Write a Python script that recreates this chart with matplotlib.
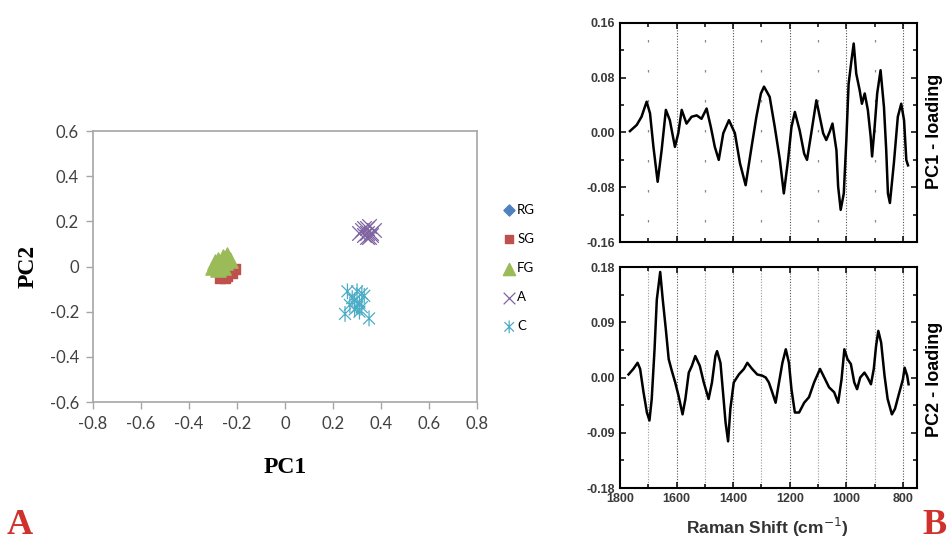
import matplotlib
matplotlib.use("Agg")
import matplotlib.pyplot as plt
from matplotlib.path import Path
from matplotlib.ticker import MultipleLocator, FormatStrFormatter, FixedLocator

plt.rcParams['font.family'] = ['Lato', 'DejaVu Sans']

# PCA scores (panel A)
rg_x = [-0.27, -0.25, -0.23]
rg_y = [-0.02, -0.01, -0.03]
sg_x = [-0.27, -0.25, -0.24, -0.22, -0.21, -0.26]
sg_y = [-0.05, -0.05, -0.04, -0.03, -0.01, -0.04]
fg_x = [-0.30, -0.29, -0.28, -0.27, -0.26, -0.25, -0.24, -0.23, -0.28, -0.26]
fg_y = [0.00, 0.02, 0.03, 0.01, 0.04, 0.02, 0.05, 0.03, -0.01, 0.00]
a_x = [0.32, 0.34, 0.36, 0.33, 0.35, 0.37, 0.34, 0.31, 0.35, 0.33, 0.36, 0.34]
a_y = [0.16, 0.17, 0.15, 0.14, 0.13, 0.16, 0.15, 0.15, 0.18, 0.17, 0.14, 0.13]
c_x = [0.25, 0.35, 0.26, 0.30, 0.32, 0.29, 0.30, 0.31, 0.28, 0.31, 0.33, 0.29, 0.27, 0.32]
c_y = [-0.21, -0.23, -0.11, -0.11, -0.12, -0.15, -0.18, -0.20, -0.14, -0.16, -0.13, -0.19, -0.17, -0.18]

# PC loadings (panel B)
pc1_wn = [1765, 1741, 1724, 1706, 1694, 1682, 1667, 1653, 1638, 1624, 1606, 1594, 1582, 1565,
          1547, 1529, 1512, 1494, 1479, 1465, 1451, 1435, 1415, 1394, 1376, 1356, 1335, 1318,
          1302, 1291, 1271, 1253, 1235, 1221, 1206, 1194, 1182, 1165, 1149, 1139, 1124, 1106,
          1094, 1082, 1071, 1059, 1049, 1035, 1029, 1020, 1009, 1000, 992, 982, 974, 965, 953,
          945, 935, 924, 914, 909, 900, 891, 879, 867, 859, 853, 846, 832, 818, 806, 796, 788, 782]
pc1_val = [0.002, 0.011, 0.023, 0.045, 0.028, -0.021, -0.072, -0.026, 0.033, 0.018, -0.021,
           -0.001, 0.033, 0.013, 0.023, 0.025, 0.020, 0.035, 0.008, -0.021, -0.040, -0.001,
           0.018, -0.001, -0.045, -0.077, -0.021, 0.023, 0.057, 0.067, 0.052, 0.008, -0.040,
           -0.089, -0.040, 0.008, 0.030, 0.003, -0.031, -0.040, -0.001, 0.047, 0.023, -0.001,
           -0.011, 0.001, 0.013, -0.026, -0.079, -0.113, -0.089, -0.011, 0.071, 0.105, 0.130,
           0.086, 0.062, 0.042, 0.057, 0.033, -0.006, -0.035, 0.008, 0.057, 0.091, 0.037,
           -0.026, -0.089, -0.103, -0.045, 0.023, 0.042, 0.018, -0.040, -0.048]
pc2_wn = [1770, 1753, 1738, 1729, 1717, 1705, 1696, 1688, 1678, 1670, 1658, 1649, 1638, 1628,
          1617, 1605, 1593, 1579, 1569, 1557, 1546, 1534, 1518, 1504, 1487, 1475, 1463, 1457,
          1445, 1436, 1427, 1418, 1410, 1398, 1380, 1362, 1350, 1333, 1315, 1297, 1285, 1274,
          1262, 1250, 1238, 1226, 1214, 1203, 1194, 1182, 1167, 1149, 1132, 1114, 1093, 1078,
          1061, 1043, 1029, 1017, 1007, 996, 984, 972, 962, 951, 936, 925, 913, 903, 895, 887,
          877, 865, 854, 839, 828, 816, 800, 794, 785, 780]
pc2_val = [0.005, 0.014, 0.024, 0.014, -0.024, -0.057, -0.070, -0.035, 0.046, 0.127, 0.172,
           0.127, 0.078, 0.030, 0.011, -0.008, -0.030, -0.060, -0.035, 0.008, 0.019, 0.035,
           0.019, -0.008, -0.035, -0.008, 0.035, 0.043, 0.024, -0.024, -0.073, -0.104, -0.051,
           -0.008, 0.005, 0.014, 0.024, 0.014, 0.005, 0.003, 0.000, -0.008, -0.024, -0.041,
           -0.008, 0.024, 0.046, 0.024, -0.019, -0.057, -0.057, -0.041, -0.032, -0.008, 0.014,
           0.000, -0.016, -0.024, -0.041, -0.003, 0.046, 0.030, 0.022, -0.008, -0.019, 0.000,
           0.008, 0.000, -0.011, 0.014, 0.051, 0.076, 0.057, 0.003, -0.035, -0.060, -0.051,
           -0.030, -0.003, 0.016, 0.003, -0.011]

star = Path([(0, -1), (0, 1), (-0.75, -0.75), (0.75, 0.75), (-0.75, 0.75), (0.75, -0.75)],
            [Path.MOVETO, Path.LINETO, Path.MOVETO, Path.LINETO, Path.MOVETO, Path.LINETO])

fig = plt.figure(figsize=(9.52, 5.42), dpi=100)

# ---- panel A
ax = fig.add_axes([0.0977, 0.2583, 0.4034, 0.5])
ax.scatter(rg_x, rg_y, marker='D', s=50, color='#4F81BD', label='RG', zorder=2)
ax.scatter(sg_x, sg_y, marker='s', s=60, color='#C0504D', label='SG', zorder=3)
ax.scatter(fg_x, fg_y, marker='^', s=120, color='#9BBB59', label='FG', zorder=4)
ax.scatter(a_x, a_y, marker='x', s=110, color='#8064A2', linewidths=0.9, label='A', zorder=5)
ax.scatter(c_x, c_y, marker=star, s=130, facecolors='none', edgecolors='#4BACC6',
           linewidths=0.9, label='C', zorder=6)
ax.set_xlim(-0.8, 0.8)
ax.set_ylim(-0.6, 0.6)
ax.set_xticks([-0.8, -0.6, -0.4, -0.2, 0, 0.2, 0.4, 0.6, 0.8])
ax.set_xticklabels(['-0.8', '-0.6', '-0.4', '-0.2', '0', '0.2', '0.4', '0.6', '0.8'])
ax.set_yticks([-0.6, -0.4, -0.2, 0, 0.2, 0.4, 0.6])
ax.set_yticklabels(['-0.6', '-0.4', '-0.2', '0', '0.2', '0.4', '0.6'])
for s in ax.spines.values():
    s.set_color('#A6A6A6')
    s.set_linewidth(1.2)
ax.tick_params(direction='out', length=5, width=1, color='#A6A6A6',
               labelsize=12, labelcolor='#404040', pad=5)
ax.set_xlabel('PC1', family='Liberation Serif', fontweight='bold', fontsize=17, labelpad=18)
ax.set_ylabel('PC2', family='Liberation Serif', fontweight='bold', fontsize=17, labelpad=8)
fig.legend(loc='center left', bbox_to_anchor=(0.530, 0.5055), frameon=False, fontsize=9.5,
           handlelength=0.7, handletextpad=0.25, labelspacing=1.3, borderpad=0,
           borderaxespad=0, scatterpoints=1, markerscale=0.8)

# ---- panel B
def loading_axes(rect, wn, val, lim, step, grid_minor_style):
    bx = fig.add_axes(rect)
    bx.plot(wn, val, color='black', lw=1.8)
    bx.set_xlim(1800, 750)
    bx.set_ylim(-lim, lim)
    bx.xaxis.set_major_locator(FixedLocator([1800, 1600, 1400, 1200, 1000, 800]))
    bx.xaxis.set_minor_locator(FixedLocator([1700, 1500, 1300, 1100, 900]))
    bx.yaxis.set_major_locator(MultipleLocator(step))
    bx.yaxis.set_minor_locator(MultipleLocator(step / 2))
    bx.yaxis.set_major_formatter(FormatStrFormatter('%.2f'))
    bx.tick_params(which='both', direction='in', top=True, right=True, width=1.1,
                   labelsize=9, labelcolor='#3a3a3a')
    bx.tick_params(which='major', length=4)
    bx.tick_params(which='minor', length=3)
    for s in bx.spines.values():
        s.set_linewidth(1.5)
    for x in [1600, 1400, 1200, 1000, 800]:
        bx.axvline(x, color='#555555', lw=0.8, ls=(0, (1, 1.5)), zorder=0)
    for x in [1700, 1500, 1300, 1100, 900]:
        bx.axvline(x, **grid_minor_style, zorder=0)
    return bx

top = loading_axes([0.6513, 0.5535, 0.3120, 0.4041], pc1_wn, pc1_val, 0.16, 0.08,
                   dict(color='#888888', lw=0.9, ls=(8, (2, 22))))
top.tick_params(labelbottom=False)
bot = loading_axes([0.6513, 0.0996, 0.3120, 0.4077], pc2_wn, pc2_val, 0.18, 0.09,
                   dict(color='#999999', lw=0.8, ls=(0, (1, 1.5))))

fig.text(0.982, 0.757, 'PC1 - loading', rotation=90, ha='center', va='center',
         family='Liberation Sans', fontweight='bold', fontsize=13)
fig.text(0.982, 0.300, 'PC2 - loading', rotation=90, ha='center', va='center',
         family='Liberation Sans', fontweight='bold', fontsize=13)
fig.text(0.806, 0.026, 'Raman Shift (cm$^{-1}$)', ha='center', va='center',
         family='Liberation Sans', fontweight='bold', color='#333333', fontsize=12.5)

fig.text(0.021, 0.030, 'A', color='#D0312D', family='Liberation Serif', fontweight='bold',
         fontsize=26, ha='center', va='center')
fig.text(0.982, 0.030, 'B', color='#D0312D', family='Liberation Serif', fontweight='bold',
         fontsize=26, ha='center', va='center')

# bold tick labels on the loading plots
fig.canvas.draw()
for bx in (top, bot):
    for lab in bx.get_xticklabels() + bx.get_yticklabels():
        lab.set_family('Liberation Sans')
        lab.set_fontweight('bold')

fig.savefig('out.png', dpi=100)
plt.close('all')
